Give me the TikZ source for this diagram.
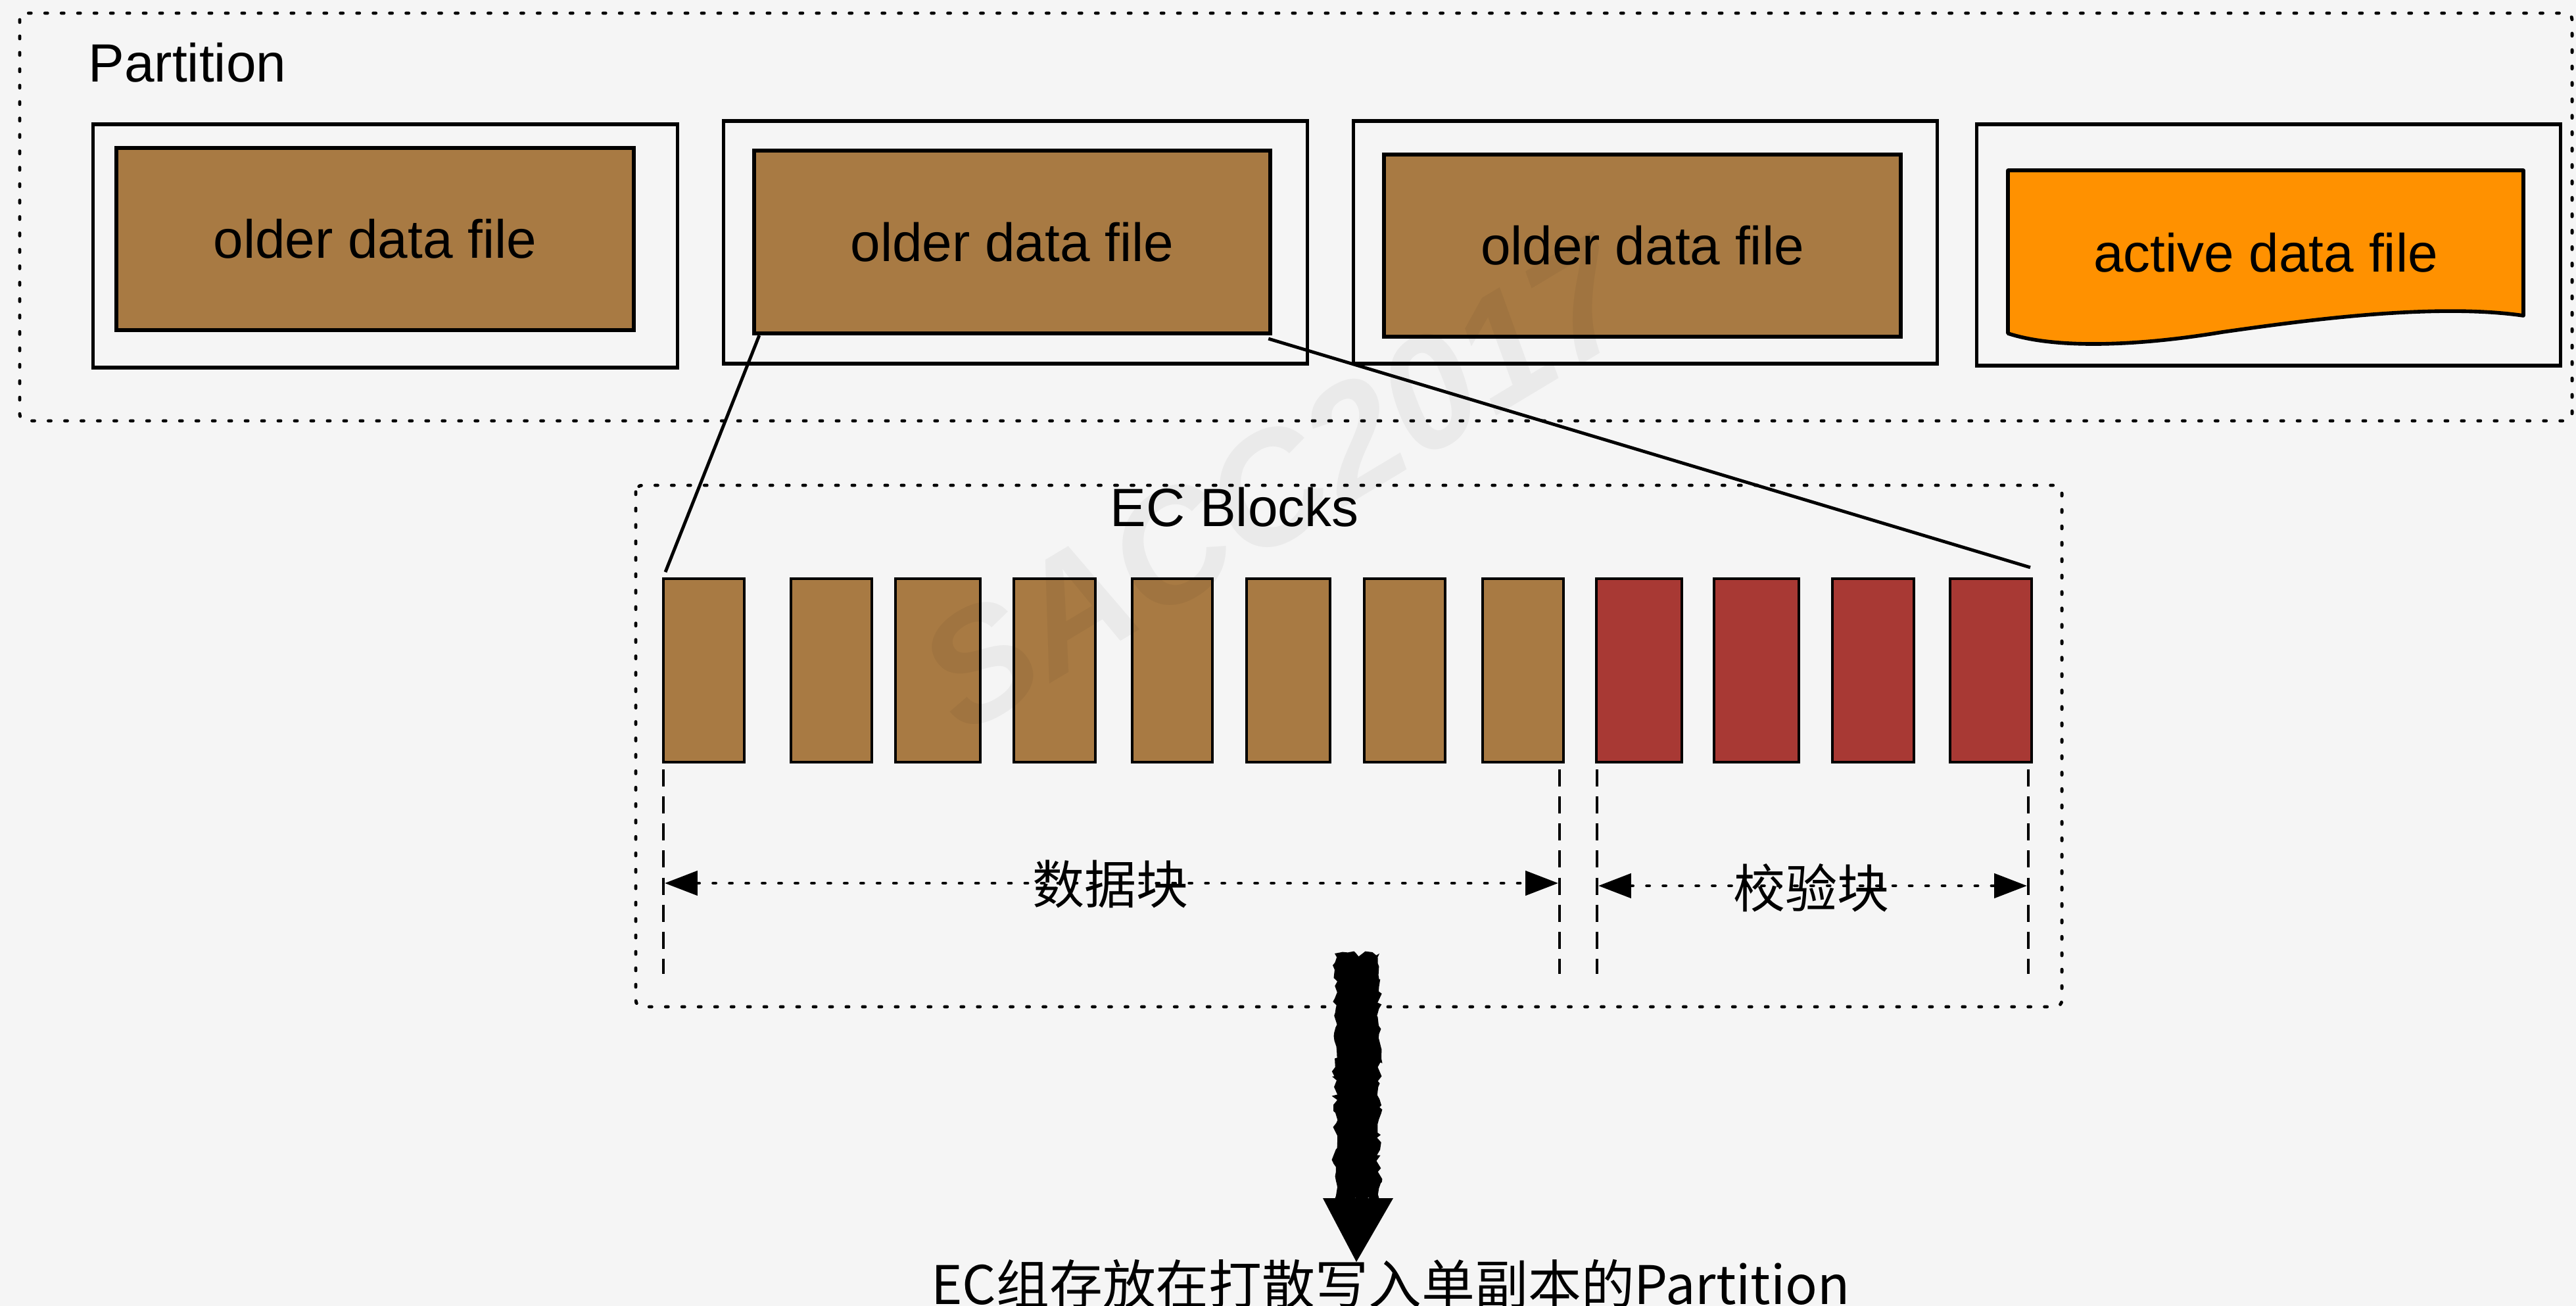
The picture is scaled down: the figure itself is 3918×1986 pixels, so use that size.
\documentclass[tikz,border=0pt]{standalone}
\usepackage{fontspec}
\setmainfont{Liberation Sans}
\newfontfamily\cjk{Noto Sans CJK SC}
\usetikzlibrary{arrows.meta,decorations.pathmorphing}
\definecolor{bg}{HTML}{F5F5F5}
\definecolor{oldbrown}{HTML}{A87A43}
\definecolor{parity}{HTML}{A83934}
\definecolor{activeorange}{HTML}{FF9100}
\begin{document}
\begin{tikzpicture}[x=0.01cm, y=-0.01cm,
  lbl/.style={inner sep=0pt, font=\fontsize{23.3}{28}\selectfont},
  cjklbl/.style={inner sep=0pt, font=\cjk\fontsize{22.5}{27}\selectfont},
  frame/.style={draw, line width=1.5pt, inner sep=0pt, outer sep=0pt},
  filebox/.style={draw, line width=1.6pt, fill=oldbrown, inner sep=0pt, outer sep=0pt, font=\fontsize{23.3}{28}\selectfont},
  blk/.style={draw, line width=1.2pt, minimum height=2.79cm, inner sep=0pt, outer sep=0pt},
  dotbox/.style={line width=1.4pt, line cap=round, dash pattern=on 1.1pt off 6pt, rounded corners=0.1cm},
  guide/.style={line width=1.2pt, dash pattern=on 7.4pt off 4.3pt},
  dim/.style={line width=1.4pt, line cap=round, dash pattern=on 1.1pt off 6pt,
    {Triangle[length=14.2pt,width=10.5pt]}-{Triangle[length=14.2pt,width=10.5pt]}},
  conn/.style={line width=1.4pt}
]
\fill[bg] (0,0) rectangle (3918,1986);
\useasboundingbox (0,0) rectangle (3918,1986);

% partition with its data files
\draw[dotbox] (30,20) rectangle (3912,640);
\node[lbl, anchor=base west] (ptitle) at (134,125) {Partition};

\node[frame, minimum width=8.88cm, minimum height=3.70cm] (p1) at (586,374) {};
\node[frame, minimum width=8.87cm, minimum height=3.69cm] (p2) at (1544.5,368.5) {};
\node[frame, minimum width=8.87cm, minimum height=3.69cm] (p3) at (2502.5,368.5) {};
\node[frame, minimum width=8.87cm, minimum height=3.67cm] (p4) at (3450.5,372.5) {};

\node[filebox, minimum width=7.87cm, minimum height=2.77cm] (f1) at (570.5,363.5) {older data file};
\node[filebox, minimum width=7.85cm, minimum height=2.78cm] (f2) at (1539.5,368) {older data file};
\node[filebox, minimum width=7.86cm, minimum height=2.77cm] (f3) at (2498,373.5) {older data file};

% active file: document shape with a wavy bottom
\draw[line width=1.6pt, fill=activeorange, line join=round]
  (3054,259) -- (3838,259) -- (3838,480)
  .. controls (3700,460) and (3500,488) .. (3380,505)
  .. controls (3260,525) and (3130,532) .. (3054,507) -- cycle;
\node[lbl] (fa) at (3446,384.5) {active data file};

% EC group
\draw[dotbox] (967,738) rectangle (3136,1531);
\node[lbl, anchor=base west] (ectitle) at (1688,801) {EC Blocks};

\foreach \lo/\hi [count=\i] in {1009/1132,1203/1326,1362/1491,1542/1666,1722/1844,1896/2023,2075/2198,2255/2378}
  \node[blk, fill=oldbrown, minimum width={(\hi-\lo)*0.01cm}] (b\i) at ({(\lo+\hi)/2},1019.5) {};
\foreach \lo/\hi [count=\i] in {2428/2558,2607/2736,2787/2911,2966/3090}
  \node[blk, fill=parity, minimum width={(\hi-\lo)*0.01cm}] (r\i) at ({(\lo+\hi)/2},1019.5) {};

% the file that is split into blocks
\draw[conn] ([shift={(8,3)}]f2.south west) -- ([shift={(3,-10)}]b1.north west);
\draw[conn] ([shift={(-3,8)}]f2.south east) -- ([shift={(-2,-17)}]r4.north east);

% extent guides
\coordinate (g1t) at (1009,1170); \coordinate (g1b) at (1009,1481);
\coordinate (g2t) at (2372,1170); \coordinate (g2b) at (2372,1481);
\coordinate (g3t) at (2429,1170); \coordinate (g3b) at (2429,1481);
\coordinate (g4t) at (3085,1170); \coordinate (g4b) at (3085,1481);
\foreach \g in {g1,g2,g3,g4} \draw[guide] (\g t) -- (\g b);

\coordinate (da) at (1011,1343); \coordinate (db) at (2370,1343);
\coordinate (pa) at (2431,1347); \coordinate (pb) at (3083,1347);
\draw[dim] (da) -- (db);
\draw[dim] (pa) -- (pb);
\node[cjklbl, anchor=base] (ldata) at (1689,1374) {数据块};
\node[cjklbl, anchor=base] (lparity) at (2755,1380) {校验块};

% placement arrow
\coordinate (ecout) at (2064,1450);
\node[inner sep=0pt, anchor=base, font=\cjk\fontsize{23}{28}\selectfont] (dest) at (2115,1983) {EC组存放在打散写入单副本的Partition};
\fill[decorate, decoration={random steps, segment length=2pt, amplitude=1.3pt}]
  ([xshift=-0.34cm]ecout) -- ([xshift=-0.34cm]ecout |- 0,1824) -- ([xshift=0.34cm]ecout |- 0,1824) -- ([xshift=0.34cm]ecout) -- cycle;
\fill ([xshift=-0.52cm]ecout |- 0,1822) -- ([xshift=0.55cm]ecout |- 0,1822) -- (2063,1919) coordinate (tip) -- cycle;

% faint watermark
\node[rotate=31, inner sep=0pt, text=black, text opacity=0.045, font=\bfseries\itshape\fontsize{68}{80}\selectfont] (wm) at (1940,738) {SACC2017};
\end{tikzpicture}
\end{document}
